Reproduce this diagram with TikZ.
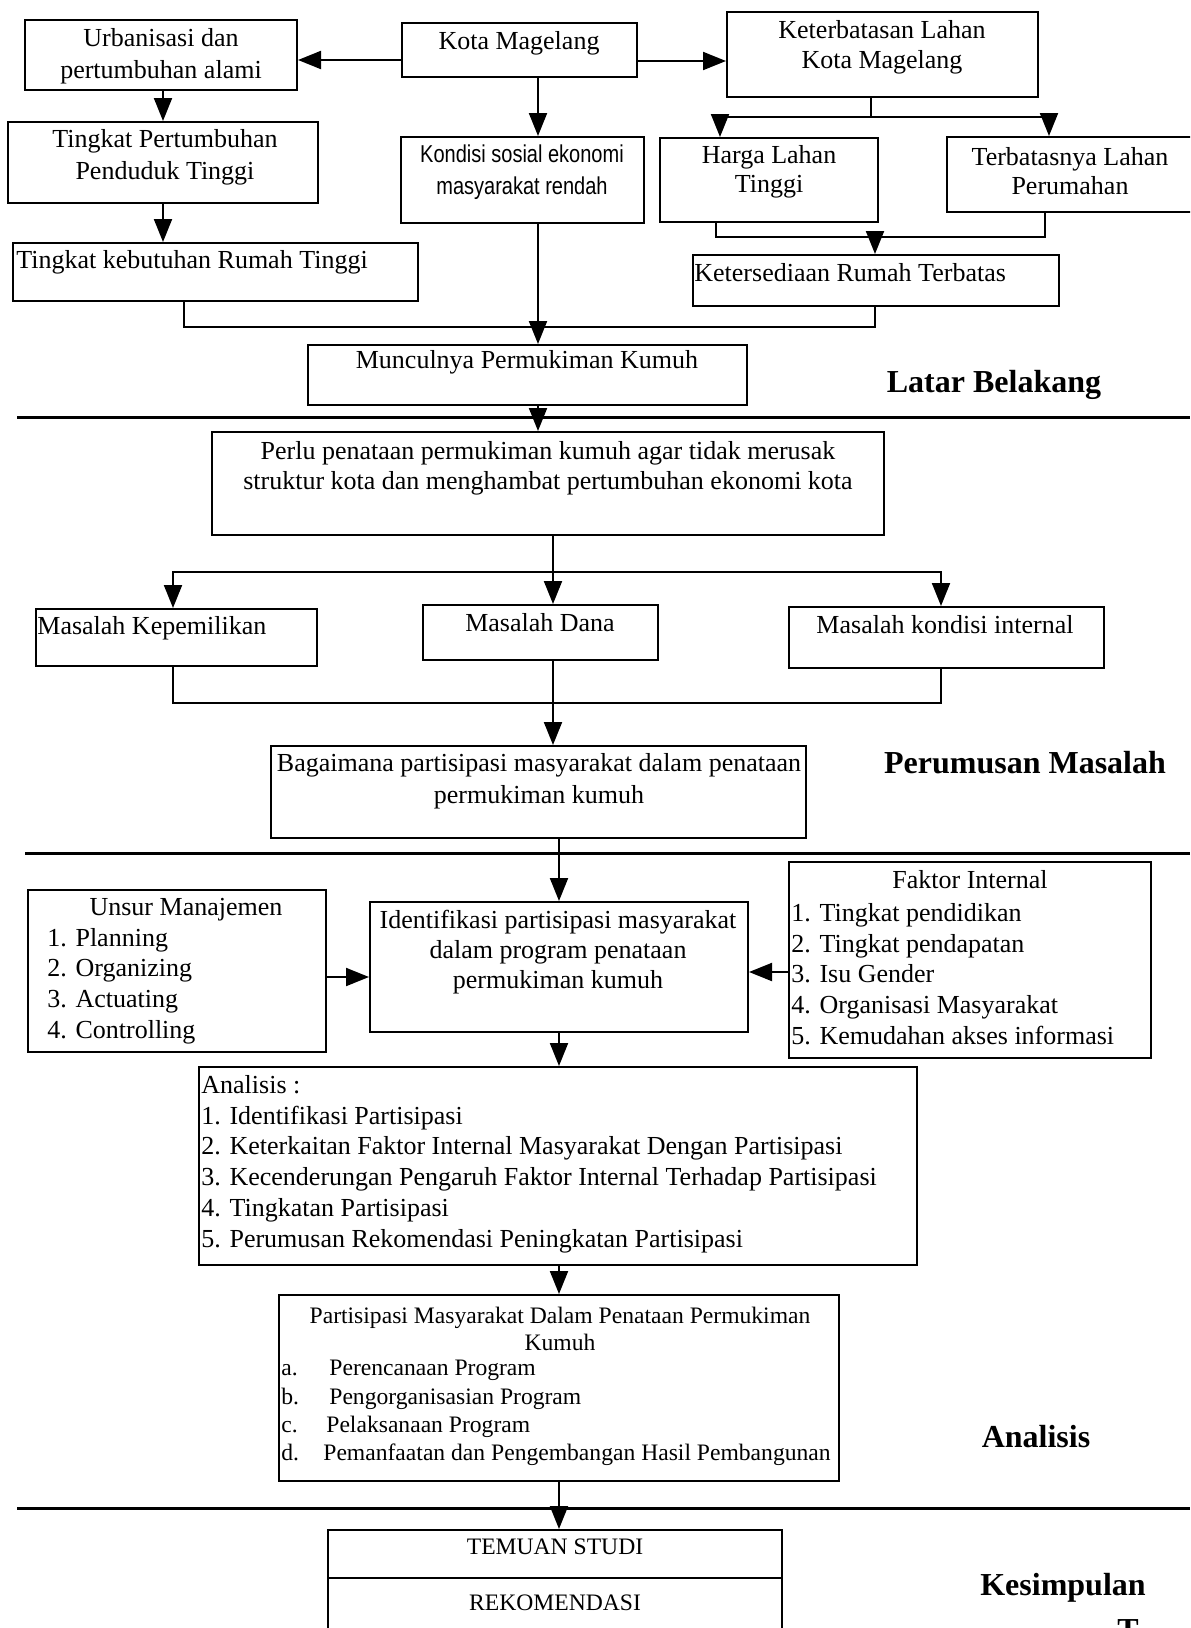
\documentclass[tikz,border=0pt]{standalone}
\usepackage{fontspec}
\setmainfont{Liberation Serif}
\newfontfamily\narrowsf[FakeStretch=0.82]{Liberation Sans}
\usetikzlibrary{arrows.meta,fit}
\begin{document}
\begin{tikzpicture}[x=0.5pt,y=-0.5pt,
  box/.style={draw, line width=1pt, inner sep=0pt, fit={#1}},
  txt/.style={inner sep=0pt, align=center, font=\fontsize{13}{15.5}\selectfont},
  txtl/.style={inner sep=0pt, align=left, anchor=west, font=\fontsize{13}{15.5}\selectfont},
  small/.style={inner sep=0pt, font=\fontsize{11.8}{14}\selectfont},
  sect/.style={inner sep=0pt, font=\fontsize{16}{19}\selectfont\bfseries},
  ln/.style={line width=1pt},
  arr/.style={line width=1pt, -{Triangle[length=11.5pt,width=9pt]}},
  sepline/.style={line width=1.5pt}]
\useasboundingbox (0,0) rectangle (1190,1628);
\clip (0,0) rectangle (1190,1628);
\fill[white] (0,0) rectangle (1190,1628);

% ---------- boxes ----------
\node[box={(25,20) (297,90)}] (urb) {};
\node[box={(402,23) (637,77)}] (kota) {};
\node[box={(727,12) (1038,97)}] (ket) {};
\node[box={(8,122) (318,203)}] (tpp) {};
\node[box={(401,137) (644,223)}] (kond) {};
\node[box={(660,138) (878,222)}] (harga) {};
\node[box={(947,137) (1200,212)}] (terb) {};
\node[box={(13,243) (418,301)}] (tkr) {};
\node[box={(693,255) (1059,306)}] (ksd) {};
\node[box={(308,345) (747,405)}] (mun) {};
\node[box={(212,432) (884,535)}] (perlu) {};
\node[box={(36,609) (317,666)}] (kep) {};
\node[box={(423,605) (658,660)}] (dana) {};
\node[box={(789,607) (1104,668)}] (kon) {};
\node[box={(271,746) (806,838)}] (bag) {};
\node[box={(28,890) (326,1052)}] (unsur) {};
\node[box={(370,902) (748,1032)}] (iden) {};
\node[box={(789,862) (1151,1058)}] (fak) {};
\node[box={(199,1067) (917,1265)}] (ana) {};
\node[box={(279,1295) (839,1481)}] (par) {};
\node[box={(328,1530) (782,1660)}] (tem) {};

% ---------- texts ----------
\node[txt, font=\fontsize{13}{16}\selectfont] (urbt) at (161,56) {Urbanisasi dan\\pertumbuhan alami};
\node[txt] (kotat) at (519,43) {Kota Magelang};
\node[txt, font=\fontsize{13}{15}\selectfont] (kett) at (882,47) {Keterbatasan Lahan\\Kota Magelang};
\node[txt, font=\fontsize{13}{16}\selectfont] (tppt) at (165,157) {Tingkat Pertumbuhan\\Penduduk Tinggi};
\node[txt, font=\fontsize{12.2}{16}\narrowsf] (kondt) at (522,172) {Kondisi sosial ekonomi\\masyarakat rendah};
\node[txt, font=\fontsize{13}{14.5}\selectfont] (hargat) at (769,172) {Harga Lahan\\Tinggi};
\node[txt, font=\fontsize{13}{14.5}\selectfont] (terbt) at (1070,171) {Terbatasnya Lahan\\Perumahan};
\node[txtl] (tkrt) at (16,262) {Tingkat kebutuhan Rumah Tinggi};
\node[txtl] (ksdt) at (694,273) {Ketersediaan Rumah Terbatas};
\node[txt] (munt) at (527,362) {Munculnya Permukiman Kumuh};
\node[sect] (latar) at (994,385) {Latar Belakang};

\node[txt, font=\fontsize{13}{15}\selectfont] (perlut) at (548,468) {Perlu penataan permukiman kumuh agar tidak merusak\\struktur kota dan menghambat pertumbuhan ekonomi kota};
\node[txtl] (kept) at (37,628) {Masalah Kepemilikan};
\node[txt] (danat) at (540,623) {Masalah Dana};
\node[txt] (kont) at (945,625) {Masalah kondisi internal};
\node[txt, font=\fontsize{13}{16}\selectfont] (bagt) at (539,781) {Bagaimana partisipasi masyarakat dalam penataan\\permukiman kumuh};
\node[sect] (perum) at (1025,763) {Perumusan Masalah};

\node[txt] (unsurt) at (186,910) {Unsur Manajemen};
\node[txtl, font=\fontsize{13}{15.3}\selectfont] (unsuri) at (47,986) {1. Planning\\2. Organizing\\3. Actuating\\4. Controlling};
\node[txt, font=\fontsize{13}{15}\selectfont] (ident) at (558,952) {Identifikasi partisipasi masyarakat\\dalam program penataan\\permukiman kumuh};
\node[txt] (fakt) at (970,880) {Faktor Internal};
\node[txtl, font=\fontsize{13}{15.4}\selectfont] (faki) at (791,974) {1. Tingkat pendidikan\\2. Tingkat pendapatan\\3. Isu Gender\\4. Organisasi Masyarakat\\5. Kemudahan akses informasi};
\node[txtl, font=\fontsize{13}{15.4}\selectfont] (anat) at (201,1164) {Analisis :\\1. Identifikasi Partisipasi\\2. Keterkaitan Faktor Internal Masyarakat Dengan Partisipasi\\3. Kecenderungan Pengaruh Faktor Internal Terhadap Partisipasi\\4. Tingkatan Partisipasi\\5. Perumusan Rekomendasi Peningkatan Partisipasi};
\node[small, align=center, font=\fontsize{11.8}{13.5}\selectfont] (part) at (560,1329) {Partisipasi Masyarakat Dalam Penataan Permukiman\\Kumuh};
\node[small, align=left, anchor=west, font=\fontsize{11.8}{14.15}\selectfont] (pari) at (281,1413) {\makebox[24pt][l]{a.}Perencanaan Program\\\makebox[24pt][l]{b.}Pengorganisasian Program\\\makebox[22.5pt][l]{c.}Pelaksanaan Program\\\makebox[21pt][l]{d.}Pemanfaatan dan Pengembangan Hasil Pembangunan};
\node[sect] (anal) at (1036,1437) {Analisis};

\node[small] (temt) at (555,1547) {TEMUAN STUDI};
\node[small] (rekt) at (555,1603) {REKOMENDASI};
\node[sect] (kes) at (1063,1588) {Kesimpulan};
\node[sect, anchor=north] (tcut) at (1128,1619) {T};

% ---------- helper coordinates ----------
\coordinate (sp) at (538,0);
\coordinate (dropA) at (184,326);
\coordinate (j1) at (538,327);
\coordinate (kb) at (871,117);
\coordinate (kbL) at (720,117);
\coordinate (kbR) at (1049,117);
\coordinate (hL) at (716,237);
\coordinate (hR) at (1045,237);
\coordinate (hj) at (875,237);
\coordinate (pb) at (553,572);
\coordinate (pbL) at (173,572);
\coordinate (pbR) at (941,572);
\coordinate (qL) at (173,703);
\coordinate (qR) at (941,703);
\coordinate (divy) at (0,1578);

% ---------- separators ----------
\coordinate (s1a) at (17,417); \coordinate (s1b) at (1190,417);
\coordinate (s2a) at (25,853); \coordinate (s2b) at (1190,853);
\coordinate (s3a) at (17,1508); \coordinate (s3b) at (1190,1508);
\draw[sepline] (s1a) -- (s1b);
\draw[sepline] (s2a) -- (s2b);
\draw[sepline] (s3a) -- (s3b);

% ---------- connectors ----------
\draw[arr] ([yshift=-5pt]kota.west) -- ([yshift=-5pt]kota.west -| urb.east);
\draw[arr] ([yshift=-5.5pt]kota.east) -- ([yshift=-5.5pt]kota.east -| ket.west);
\draw[arr] (tpp.north |- urb.south) -- (tpp.north);
\draw[arr] (tpp.south) -- (tpp.south |- tkr.north);
\draw[arr] (kota.south -| sp) -- (kond.north -| sp);
\draw[arr] (kond.south -| sp) -- (mun.north -| sp);
\draw[ln] (tkr.south -| dropA) |- (j1);
\draw[ln] (ket.south -| kb) -- (kb);
\draw[arr] (kb) -| (kbL |- harga.north);
\draw[arr] (kb) -| (kbR |- terb.north);
\draw[ln] (harga.south -| hL) -- (hL) -- (hR) -- (terb.south -| hR);
\draw[arr] (hj) -- (hj |- ksd.north);
\draw[ln] (ksd.south -| hj) |- (j1);

\draw[arr] (mun.south -| sp) -- (perlu.north -| sp);
\draw[ln] (perlu.south -| pb) -- (pb);
\draw[arr] (pb) -- (pb |- dana.north);
\draw[arr] (pb) -| (pbL |- kep.north);
\draw[arr] (pb) -| (pbR |- kon.north);
\draw[ln] (kep.south -| qL) -- (qL) -- (qR) -- (kon.south -| qR);
\draw[arr] (dana.south -| pb) -- (bag.north -| pb);

\draw[arr] (bag.south -| iden.north) -- (iden.north);
\draw[arr] ([yshift=-5pt]iden.west -| unsur.east) -- ([yshift=-5pt]iden.west);
\draw[arr] ([yshift=-2.5pt]iden.east -| fak.west) -- ([yshift=-2.5pt]iden.east);
\draw[arr] (iden.south) -- (iden.south |- ana.north);
\draw[arr] (par.north |- ana.south) -- (par.north);
\draw[arr] (par.south) -- (par.south |- tem.north);
\draw[ln] (tem.west |- divy) -- (tem.east |- divy);
\end{tikzpicture}
\end{document}
